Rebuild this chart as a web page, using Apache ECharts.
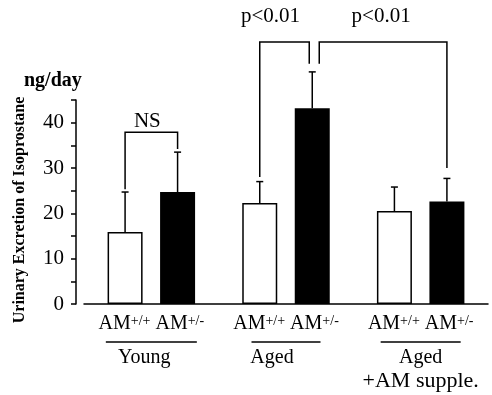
<!DOCTYPE html>
<html>
<head>
<meta charset="utf-8">
<script src="https://cdn.jsdelivr.net/npm/echarts@6/dist/echarts.min.js"></script>
<style>
  html, body { margin: 0; padding: 0; background: #fff; }
  #main { width: 492px; height: 395px; }
</style>
</head>
<body>
<div id="main"></div>
<script>
// groups on the x axis
var groups = ['Young', 'Aged', 'Aged +AM supple.'];
// AM+/+ (white) and AM+/- (black), mean and error
var wtMean = [15.9, 22.3, 20.5];
var wtErr = [8.8, 4.7, 5.3];
var hetMean = [24.7, 43.2, 22.6];
var hetErr = [8.8, 8.0, 5.1];
// y axis
var yMax = 45;
var yStep = 5;
var yLabelEvery = 10;
// significance brackets: [group, bar(0 white / 1 black), leg bottom]
var bracketLeft = [[0, 0, 25.3], [1, 0, 28.0], [1, 1, 53.0]];
var bracketRight = [[0, 1, 34.2], [1, 1, 53.0], [2, 1, 30.0]];
var bracketTop = [37.9, 57.8, 57.8];
var bracketText = ['NS', 'p<0.01', 'p<0.01'];
var bracketTextY = [40.3, 63.4, 63.4];

var FONT = 'Liberation Serif';
var BAR_W = 35;
var HALF = (BAR_W + BAR_W * 0.5) / 2;   // bar centre offset from group centre
var legNudge = [[0, 0], [0, -3], [7, 0]];
var textNudge = [-4, -14, -2];
var ulWidth = [91, 69, 80];
var nameShift = [14, 28, 0];

var myChart = echarts.init(document.getElementById('main'));

function errItem(side) {
  return function (params, api) {
    var g = api.value(0);
    var p0 = api.coord([g, api.value(1)]);
    var p1 = api.coord([g, api.value(2)]);
    var x = p0[0] + side * HALF;
    var st = { stroke: '#000', lineWidth: 1.5 };
    return {
      type: 'group',
      children: [
        { type: 'line', shape: { x1: x, y1: p0[1], x2: x, y2: p1[1] }, style: st },
        { type: 'line', shape: { x1: x - 3.5, y1: p1[1], x2: x + 3.5, y2: p1[1] }, style: st }
      ]
    };
  };
}

var rich = {
  am: { fontFamily: FONT, fontSize: 20, color: '#000', lineHeight: 22 },
  sup: { fontFamily: FONT, fontSize: 14, color: '#000', lineHeight: 22, verticalAlign: 'bottom', padding: [0, 0, 7, 0] },
  sp: { fontFamily: FONT, fontSize: 20, lineHeight: 22 },
  s: { fontFamily: FONT, fontSize: 22, color: '#000', lineHeight: 28 }
};
for (var k = 0; k < groups.length; k++) {
  rich['ul' + k] = { width: ulWidth[k], height: 1.5, backgroundColor: '#000', lineHeight: 14, fontSize: 1 };
  rich['g' + k] = { fontFamily: FONT, fontSize: 20, color: '#000', lineHeight: 18, padding: [0, nameShift[k], 0, 0] };
}

var option = {
  animation: false,
  backgroundColor: '#fff',
  grid: { left: 84, right: 4, top: 100, bottom: 91 },
  xAxis: {
    type: 'category',
    data: groups,
    axisLine: { lineStyle: { color: '#000', width: 1.5 } },
    axisTick: { show: false },
    axisLabel: {
      margin: 9,
      interval: 0,
      verticalAlign: 'top',
      formatter: function (v, i) {
        var s = '{am|AM}{sup|+/+}{sp| }{am|AM}{sup|+/-}\n{ul' + i + '| }\n';
        if (i === 2) {
          s += '{g' + i + '|Aged}\n{s|+AM supple.}';
        } else {
          s += '{g' + i + '|' + v + '}';
        }
        return s;
      },
      rich: rich
    }
  },
  yAxis: {
    type: 'value',
    min: 0,
    max: yMax,
    interval: yStep,
    offset: 8,
    splitLine: { show: false },
    axisLine: { show: true, lineStyle: { color: '#000', width: 1.5 } },
    axisTick: { show: true, length: 5, lineStyle: { color: '#000', width: 1.5 } },
    axisLabel: {
      margin: 12,
      color: '#000',
      fontFamily: FONT,
      fontSize: 21,
      formatter: function (v) { return v % yLabelEvery === 0 ? v : ''; }
    }
  },
  series: [
    {
      type: 'bar',
      data: wtMean,
      barWidth: BAR_W,
      barGap: '50%',
      itemStyle: { color: '#fff', borderColor: '#000', borderWidth: 1.5 }
    },
    {
      type: 'bar',
      data: hetMean,
      barWidth: BAR_W,
      barGap: '50%',
      itemStyle: { color: '#000' }
    },
    {
      type: 'custom',
      clip: false,
      z: 3,
      renderItem: errItem(-1),
      data: wtMean.map(function (m, i) { return [i, m, m + wtErr[i]]; })
    },
    {
      type: 'custom',
      clip: false,
      z: 3,
      renderItem: errItem(1),
      data: hetMean.map(function (m, i) { return [i, m, m + hetErr[i]]; })
    },
    {
      type: 'custom',
      clip: false,
      z: 3,
      renderItem: function (params, api) {
        var i = params.dataIndex;
        var st = { stroke: '#000', lineWidth: 1.5, fill: null };
        var lb = api.coord([api.value(0), api.value(2)]);
        var rb = api.coord([api.value(3), api.value(5)]);
        var lx = lb[0] + (api.value(1) ? 1 : -1) * HALF + legNudge[i][0];
        var rx = rb[0] + (api.value(4) ? 1 : -1) * HALF + legNudge[i][1];
        var ty = api.coord([0, api.value(6)])[1];
        var txY = api.coord([0, api.value(7)])[1];
        return {
          type: 'group',
          children: [
            { type: 'polyline', shape: { points: [[lx, lb[1]], [lx, ty], [rx, ty], [rx, rb[1]]] }, style: st },
            {
              type: 'text',
              style: {
                x: (lx + rx) / 2 + textNudge[i], y: txY,
                text: bracketText[i],
                fill: '#000',
                font: '21px "' + FONT + '"',
                align: 'center', verticalAlign: 'middle'
              }
            }
          ]
        };
      },
      data: bracketTop.map(function (t, i) {
        return [bracketLeft[i][0], bracketLeft[i][1], bracketLeft[i][2],
                bracketRight[i][0], bracketRight[i][1], bracketRight[i][2],
                t, bracketTextY[i]];
      })
    }
  ],
  graphic: [
    {
      type: 'text', left: 24, top: 71,
      style: { text: 'ng/day', fill: '#000', font: 'bold 20px "' + FONT + '"' }
    },
    {
      type: 'text', x: 20, y: 210, rotation: Math.PI / 2,
      style: {
        text: 'Urinary Excretion of Isoprostane', fill: '#000',
        font: 'bold 16px "' + FONT + '"', align: 'center', verticalAlign: 'middle'
      }
    }
  ]
};
myChart.setOption(option);
</script>
</body>
</html>
